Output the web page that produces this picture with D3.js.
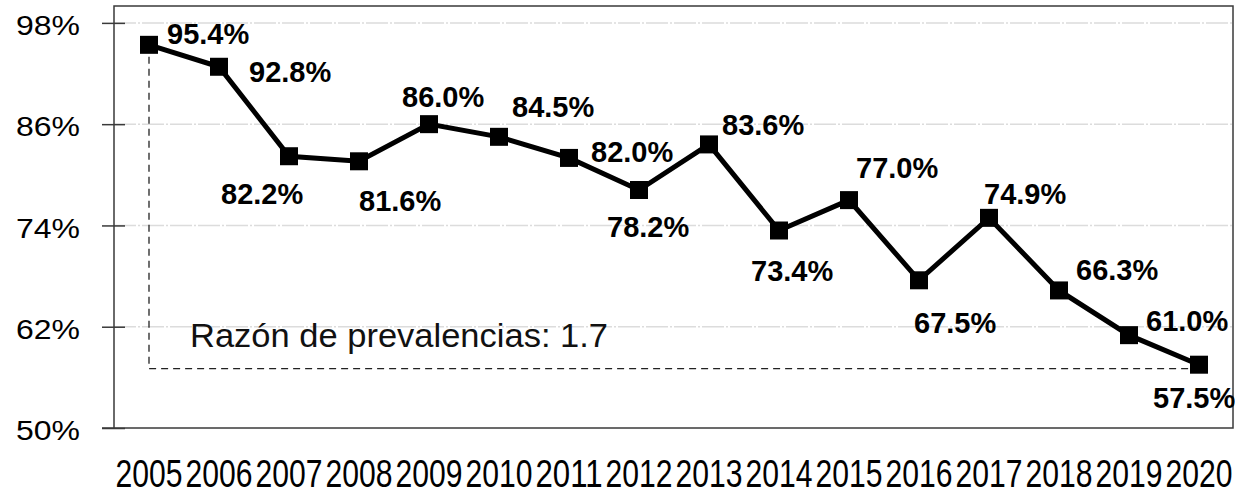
<!DOCTYPE html>
<html>
<head>
<meta charset="utf-8">
<script src="https://cdn.jsdelivr.net/npm/d3@7"></script>
<style>
  html, body { margin: 0; padding: 0; background: #fff; }
  svg { display: block; font-family: "Liberation Sans", Arial, sans-serif; }
</style>
</head>
<body>
<div id="chart"></div>
<script>
// data
const years = ["2005","2006","2007","2008","2009","2010","2011","2012","2013","2014","2015","2016","2017","2018","2019","2020"];
const prevalence = [95.4, 92.8, 82.2, 81.6, 86.0, 84.5, 82.0, 78.2, 83.6, 73.4, 77.0, 67.5, 74.9, 66.3, 61.0, 57.5];
const yTicks = [50, 62, 74, 86, 98];
const noteText = "Razón de prevalencias: 1.7";

// where each value label sits relative to its marker (left edge, baseline)
const labelDx = [18, 30, -68, 0, -27, 13, 22, -32, 13, -28, 7, -5, -5, 17, 17, -46];
const labelDy = [-1, 15, 48, 50, -17, -20, 4, 47, -9, 50, -22, 53, -14, -10, -4, 43];

const width = 1235, height = 499;
const plot = {left: 114, right: 1234, top: 6, bottom: 428};

const svg = d3.select("#chart").append("svg")
    .attr("width", width)
    .attr("height", height);

const x = d3.scaleBand()
    .domain(years)
    .range([plot.left, plot.right])
    .padding(0);

const y = d3.scaleLinear()
    .domain([50, 100])
    .range([plot.bottom, plot.top]);

const cx = (d, i) => x(years[i]) + x.bandwidth() / 2;

// gridlines
svg.append("g")
    .selectAll("line")
    .data(yTicks.filter(t => t > 50))
    .enter().append("line")
    .attr("x1", plot.left)
    .attr("x2", plot.right - 1)
    .attr("y1", d => y(d))
    .attr("y2", d => y(d))
    .style("stroke", "#dcdcdc")
    .style("stroke-width", 1.5)
    .style("stroke-dasharray", "22,2,2,2");

// frame
svg.append("rect")
    .attr("x", plot.left)
    .attr("y", plot.top)
    .attr("width", plot.right - 1 - plot.left)
    .attr("height", plot.bottom - plot.top)
    .style("fill", "none")
    .style("stroke", "#3a3a3a")
    .style("stroke-width", 1.5);

// y axis: ticks cross the axis line
const yAxis = svg.append("g")
    .attr("transform", "translate(" + plot.left + ",0)")
    .call(d3.axisLeft(y).tickValues(yTicks).tickSize(12).tickFormat(d => d + "%"));
yAxis.select(".domain").remove();
yAxis.selectAll(".tick line")
    .attr("x1", 11).attr("x2", -12)
    .style("stroke", "#3a3a3a").style("stroke-width", 1.5);
yAxis.selectAll(".tick text")
    .attr("x", -34)
    .attr("dy", "0.42em")
    .attr("textLength", 64)
    .attr("lengthAdjust", "spacingAndGlyphs")
    .style("font-size", "28px")
    .style("font-family", "'Liberation Sans', Arial, sans-serif")
    .style("fill", "#000");
svg.append("line")
    .attr("x1", plot.left - 12).attr("x2", plot.left)
    .attr("y1", plot.bottom).attr("y2", plot.bottom)
    .style("stroke", "#3a3a3a").style("stroke-width", 1.5);

// x axis labels
const xAxis = svg.append("g")
    .attr("transform", "translate(0," + plot.bottom + ")")
    .call(d3.axisBottom(x).tickSize(0));
xAxis.select(".domain").remove();
xAxis.selectAll(".tick text")
    .attr("y", 59)
    .attr("dy", 0)
    .attr("textLength", 67)
    .attr("lengthAdjust", "spacingAndGlyphs")
    .style("font-size", "38px")
    .style("font-family", "'Liberation Sans', Arial, sans-serif")
    .style("fill", "#000");

// dashed reference: down from first point, across to last
const last = prevalence.length - 1;
const refY = y(prevalence[last]) + 4;
svg.append("path")
    .attr("d", d3.line()([[cx(null, 0), y(prevalence[0])], [cx(null, 0), refY], [cx(null, last), refY]]))
    .style("fill", "none")
    .style("stroke", "#222")
    .style("stroke-width", 1.3)
    .style("stroke-dasharray", "7,5");

svg.append("text")
    .attr("x", 190)
    .attr("y", 347)
    .attr("textLength", 418)
    .attr("lengthAdjust", "spacingAndGlyphs")
    .style("font-size", "33px")
    .style("fill", "#111")
    .text(noteText);

// series line
const line = d3.line()
    .x((d, i) => cx(d, i))
    .y(d => y(d));

svg.append("path")
    .datum(prevalence)
    .attr("d", line)
    .style("fill", "none")
    .style("stroke", "#000")
    .style("stroke-width", 5)
    .style("stroke-linejoin", "miter");

svg.append("g")
    .selectAll("rect")
    .data(prevalence)
    .enter().append("rect")
    .attr("x", (d, i) => cx(d, i) - 9)
    .attr("y", d => y(d) - 9)
    .attr("width", 18)
    .attr("height", 18)
    .style("fill", "#000");

svg.append("g")
    .selectAll("text")
    .data(prevalence)
    .enter().append("text")
    .attr("x", (d, i) => cx(d, i) + labelDx[i])
    .attr("y", (d, i) => y(d) + labelDy[i])
    .style("font-size", "29px")
    .style("font-weight", "bold")
    .style("fill", "#000")
    .text(d => d.toFixed(1) + "%");
</script>
</body>
</html>
